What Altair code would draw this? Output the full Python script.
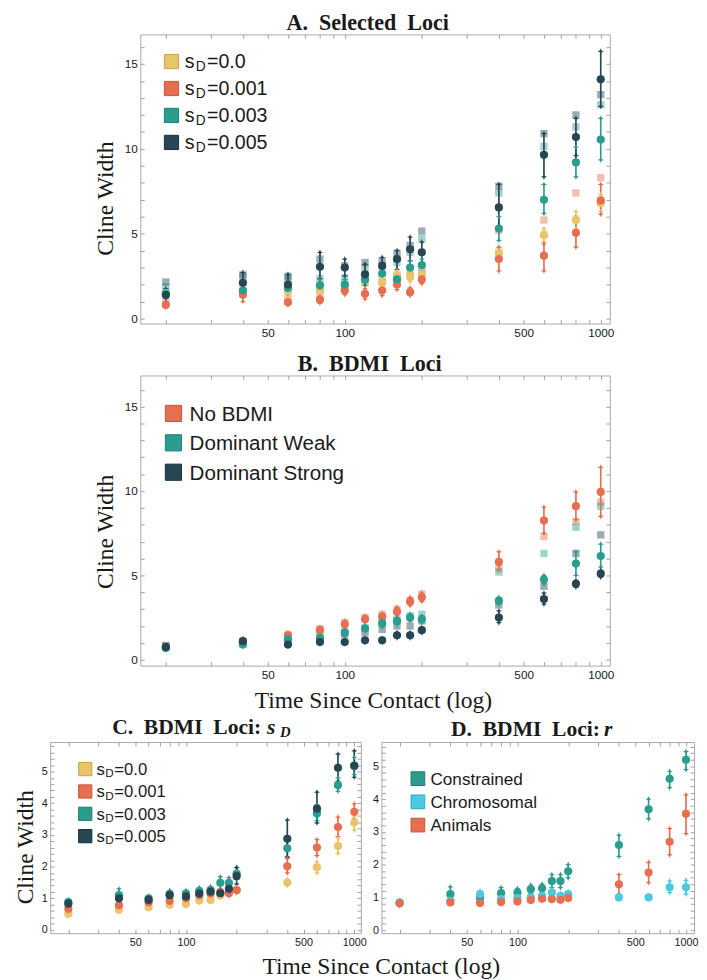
import altair as alt
import pandas as pd

SERIF = "Liberation Serif"
SANS = "Liberation Sans"
INK = "#1a1a1a"
TICK = "#a0a0a0"
FRAME = "#a8a8a8"

YELLOW = "#E9C46A"
RED = "#E76F51"
TEAL = "#2A9D8F"
DARK = "#264653"
CYAN = "#4CC9E0"
EDGE = {YELLOW: "#C9A24A", RED: "#C4553A", TEAL: "#1F7C71", DARK: "#16303A", CYAN: "#2FA8BE"}

TIMES = [20, 40, 60, 80, 100, 120, 140, 160, 180, 200, 400, 600, 800, 1000]
X_TICKS = [20, 30, 40, 50, 60, 70, 80, 90, 100, 200, 300, 400, 500, 600, 700, 800, 900, 1000]
X_MAJOR = [50, 100, 500, 1000]
Y_TICKS_AB = list(range(0, 17))
Y_TICKS_C = [round(0.2 * i, 1) for i in range(0, 30)]
Y_TICKS_D = [round(0.2 * i, 1) for i in range(0, 29)]

# ---------------- Panel A: Selected loci ----------------
A_NAMES = ["0.0", "0.001", "0.003", "0.005"]
A_COLORS = [YELLOW, RED, TEAL, DARK]
A_MEAN = [
    [1.5, 1.5, 1.6, 1.65, 1.8, 2.3, 2.1, 2.5, 2.45, 2.6, 3.85, 4.9, 5.8, 6.8],
    [0.8, 1.4, 0.95, 1.1, 1.65, 1.45, 1.65, 2.0, 1.55, 2.3, 3.5, 3.7, 5.05, 6.95],
    [1.45, 1.65, 1.8, 1.95, 2.0, 2.3, 2.65, 2.3, 3.0, 3.15, 5.3, 7.0, 9.2, 10.55],
    [1.38, 2.1, 2.0, 3.05, 3.0, 2.6, 3.1, 3.5, 4.08, 3.9, 6.55, 9.65, 10.7, 14.1],
]
A_LO = [
    [1.3, 1.25, 1.35, 1.4, 1.55, 2.0, 1.85, 2.2, 2.15, 2.3, 3.45, 4.5, 5.3, 6.3],
    [0.65, 1.0, 0.8, 0.9, 1.4, 1.15, 1.35, 1.7, 1.35, 2.05, 2.8, 2.8, 4.2, 6.15],
    [1.2, 1.3, 1.5, 1.6, 1.7, 1.95, 2.3, 2.0, 2.6, 2.8, 4.6, 6.2, 8.35, 9.35],
    [1.0, 1.45, 1.5, 2.35, 2.5, 2.1, 2.6, 2.9, 3.4, 3.3, 5.3, 8.35, 9.6, 12.5],
]
A_HI = [
    [1.7, 1.75, 1.85, 1.9, 2.05, 2.6, 2.35, 2.8, 2.75, 2.9, 4.2, 5.3, 6.3, 7.3],
    [0.95, 1.7, 1.1, 1.3, 1.9, 1.75, 1.95, 2.3, 1.8, 2.6, 4.2, 4.4, 5.95, 7.9],
    [1.7, 2.0, 2.1, 2.3, 2.3, 2.65, 3.0, 2.6, 3.4, 3.5, 6.0, 7.9, 10.1, 11.8],
    [1.75, 2.7, 2.6, 3.9, 3.5, 3.2, 3.6, 4.0, 4.8, 4.5, 7.9, 10.9, 11.8, 15.75],
]
A_EXP = [
    [1.6, 1.8, 1.7, 1.9, 2.0, 2.2, 2.3, 2.6, 2.7, 2.9, 4.0, 5.0, 5.9, 7.0],
    [1.0, 1.6, 1.2, 1.4, 1.8, 2.1, 2.15, 2.5, 2.6, 2.9, 5.2, 5.8, 7.4, 8.3],
    [1.85, 2.6, 2.5, 2.35, 2.4, 3.0, 3.1, 3.3, 3.9, 4.7, 7.4, 10.15, 11.3, 12.6],
    [2.15, 2.5, 2.4, 3.5, 3.1, 3.3, 3.4, 3.85, 4.3, 5.15, 7.8, 10.9, 12.0, 13.2],
]

# ---------------- Panel B: BDMI loci ----------------
B_NAMES = ["No BDMI", "Dominant Weak", "Dominant Strong"]
B_COLORS = [RED, TEAL, DARK]
B_MEAN = [
    [0.75, 1.0, 1.45, 1.75, 2.1, 2.4, 2.55, 2.85, 3.45, 3.7, 5.8, 8.25, 9.1, 9.95],
    [0.7, 0.9, 1.2, 1.3, 1.6, 1.85, 2.15, 2.3, 2.5, 2.4, 3.5, 4.75, 5.7, 6.15],
    [0.75, 1.1, 0.9, 1.05, 1.05, 1.15, 1.15, 1.45, 1.45, 1.75, 2.5, 3.6, 4.5, 5.1],
]
B_LO = [
    [0.65, 0.9, 1.3, 1.6, 1.9, 2.2, 2.35, 2.6, 3.2, 3.45, 5.35, 7.5, 8.3, 8.5],
    [0.6, 0.8, 1.05, 1.15, 1.45, 1.7, 1.95, 2.1, 2.3, 2.2, 3.3, 4.5, 5.0, 5.5],
    [0.65, 0.95, 0.8, 0.95, 0.95, 1.05, 1.05, 1.3, 1.3, 1.6, 2.2, 3.3, 4.3, 4.9],
]
B_HI = [
    [0.85, 1.1, 1.6, 1.9, 2.3, 2.6, 2.75, 3.1, 3.7, 3.95, 6.4, 9.05, 9.95, 11.4],
    [0.8, 1.0, 1.35, 1.45, 1.75, 2.0, 2.35, 2.5, 2.7, 2.6, 3.7, 5.0, 6.4, 6.85],
    [0.85, 1.25, 1.0, 1.15, 1.15, 1.25, 1.25, 1.6, 1.6, 1.9, 2.9, 3.95, 4.7, 5.3],
]
B_EXP = [
    [0.85, 1.05, 1.5, 1.85, 2.2, 2.5, 2.7, 3.0, 3.5, 3.9, 5.4, 7.3, 8.2, 9.35],
    [0.8, 0.95, 1.25, 1.4, 1.65, 1.9, 2.2, 2.35, 2.6, 2.7, 5.2, 6.3, 7.85, 9.1],
    [0.8, 1.05, 1.05, 1.2, 1.5, 1.6, 1.8, 2.0, 2.0, 2.3, 3.25, 4.35, 6.3, 7.4],
]

# ---------------- Panel C: BDMI loci by s_D ----------------
C_NAMES = ["0.0", "0.001", "0.003", "0.005"]
C_COLORS = [YELLOW, RED, TEAL, DARK]
C_MEAN = [
    [0.51, 0.64, 0.72, 0.8, 0.82, 0.93, 0.95, 1.09, 1.2, 1.26, 1.5, 1.98, 2.65, 3.39],
    [0.67, 0.78, 0.88, 0.92, 1.0, 1.1, 1.15, 1.19, 1.16, 1.26, 2.01, 2.6, 3.25, 3.73],
    [0.88, 1.1, 1.0, 1.13, 1.15, 1.23, 1.26, 1.49, 1.49, 1.78, 2.58, 3.68, 4.57, 5.17],
    [0.83, 1.0, 0.95, 1.1, 1.06, 1.15, 1.21, 1.16, 1.3, 1.7, 2.88, 3.83, 5.12, 5.19],
]
C_LO = [
    [0.46, 0.58, 0.67, 0.74, 0.76, 0.87, 0.89, 1.03, 1.13, 1.19, 1.4, 1.8, 2.42, 3.15],
    [0.6, 0.7, 0.8, 0.84, 0.92, 1.02, 1.07, 1.1, 1.08, 1.17, 1.8, 2.35, 2.95, 3.5],
    [0.8, 0.92, 0.92, 1.02, 1.05, 1.12, 1.15, 1.3, 1.33, 1.6, 2.3, 3.45, 4.38, 4.9],
    [0.75, 0.9, 0.85, 0.98, 0.95, 1.05, 1.1, 1.05, 1.12, 1.45, 2.3, 3.38, 4.7, 4.82],
]
C_HI = [
    [0.56, 0.7, 0.77, 0.86, 0.88, 0.99, 1.01, 1.15, 1.27, 1.33, 1.6, 2.15, 2.9, 3.6],
    [0.74, 0.86, 0.96, 1.0, 1.08, 1.18, 1.23, 1.28, 1.24, 1.35, 2.25, 2.85, 3.56, 3.98],
    [0.96, 1.3, 1.08, 1.24, 1.25, 1.34, 1.37, 1.68, 1.65, 1.96, 2.85, 3.95, 4.8, 5.45],
    [0.91, 1.1, 1.05, 1.22, 1.17, 1.25, 1.32, 1.27, 1.48, 1.98, 3.47, 4.35, 5.55, 5.65],
]

# ---------------- Panel D: BDMI loci by r ----------------
D_NAMES = ["Constrained", "Chromosomal", "Animals"]
D_COLORS = [TEAL, CYAN, RED]
D_MEAN = [
    [0.83, 1.1, 0.98, 1.13, 1.15, 1.25, 1.28, 1.5, 1.5, 1.8, 2.6, 3.69, 4.62, 5.2],
    [0.85, 0.9, 1.1, 0.95, 0.98, 1.0, 1.05, 1.15, 1.05, 1.1, 1.0, 1.0, 1.31, 1.31],
    [0.82, 0.85, 0.83, 0.86, 0.88, 0.92, 0.96, 0.95, 0.93, 0.98, 1.4, 1.76, 2.7, 3.55],
]
D_LO = [
    [0.75, 0.9, 0.9, 0.95, 1.02, 1.12, 1.15, 1.3, 1.3, 1.6, 2.25, 3.4, 4.35, 4.9],
    [0.8, 0.85, 1.0, 0.9, 0.93, 0.95, 0.98, 1.05, 0.98, 1.02, 0.96, 0.96, 1.15, 1.1],
    [0.78, 0.81, 0.79, 0.82, 0.84, 0.88, 0.92, 0.91, 0.89, 0.94, 1.1, 1.45, 2.3, 2.95],
]
D_HI = [
    [0.91, 1.32, 1.06, 1.3, 1.28, 1.38, 1.41, 1.7, 1.7, 2.0, 2.9, 4.0, 4.85, 5.45],
    [0.9, 0.95, 1.2, 1.0, 1.03, 1.05, 1.12, 1.25, 1.12, 1.18, 1.04, 1.04, 1.5, 1.52],
    [0.86, 0.89, 0.87, 0.9, 0.92, 0.96, 1.0, 0.99, 0.97, 1.02, 1.7, 2.07, 3.1, 4.13],
]

STAR = "M0,-1L0.28,-0.28L1,0L0.28,0.28L0,1L-0.28,0.28L-1,0L-0.28,-0.28Z"
ONE = pd.DataFrame({"i": [0]})
X_LABEL_EXPR = "indexof([50, 100, 500, 1000], datum.value) >= 0 ? format(datum.value, 'd') : ''"
Y_LABEL_AB = "datum.value % 5 === 0 ? format(datum.value, 'd') : ''"
Y_LABEL_CD = "abs(datum.value - round(datum.value)) < 0.01 ? format(datum.value, 'd') : ''"


def long_df(names, colors, means, los, his):
    rows = []
    for k, name in enumerate(names):
        for i, t in enumerate(TIMES):
            rows.append({"t": t, "s": name, "c": colors[k], "k": k,
                         "m": means[k][i], "lo": los[k][i], "hi": his[k][i]})
    return pd.DataFrame(rows)


def exp_df(names, colors, exps):
    rows = []
    for k, name in enumerate(names):
        for i, t in enumerate(TIMES):
            rows.append({"t": t, "s": name, "c": colors[k], "k": k, "v": exps[k][i]})
    return pd.DataFrame(rows)


def txt(s, x, y, size, font=SANS, weight="normal", style="normal", align="left"):
    return alt.Chart(ONE).mark_text(
        text=s, font=font, fontSize=size, fontWeight=weight, fontStyle=style,
        align=align, baseline="alphabetic", color=INK
    ).encode(x=alt.value(x), y=alt.value(y))


def swatch(col, x, y, side):
    return alt.Chart(ONE).mark_square(
        size=side * side, filled=True, fill=col, stroke=EDGE[col], strokeWidth=1, opacity=1
    ).encode(x=alt.value(x), y=alt.value(y))


def panel(df, edf, xdom, ydom, w, h, yticks, ylab, lab_fs, ytitle, xtitle, extra):
    xs = alt.Scale(type="log", domain=xdom, nice=False)
    ys = alt.Scale(domain=ydom, nice=False, zero=False)
    common = dict(domain=False, grid=False, offset=-4, tickSize=4, tickColor=TICK, tickWidth=1)
    xa = alt.Axis(values=X_TICKS, labelExpr=X_LABEL_EXPR, labelFont=SANS, labelFontSize=lab_fs,
                  labelColor=INK, labelPadding=4, labelFlush=False, labelOverlap=False, **common, **xtitle)
    ya = alt.Axis(values=yticks, labelExpr=ylab, labelFont=SANS, labelFontSize=lab_fs,
                  labelColor=INK, labelPadding=3, labelFlush=False, labelOverlap=False, **common, **ytitle)
    xt = alt.Axis(orient="top", values=X_TICKS, labels=False, title=None, **common)
    yr = alt.Axis(orient="right", values=yticks, labels=False, title=None, **common)
    color = alt.Color("c:N", scale=None)
    order = alt.Order("k:Q")
    state = {"first": True}

    def xy(yfield):
        f = state["first"]
        state["first"] = False
        return dict(x=alt.X("t:Q", scale=xs, axis=xa if f else None),
                    y=alt.Y(yfield, scale=ys, axis=ya if f else None))

    layers = []
    if edf is not None:
        layers.append(alt.Chart(edf).mark_square(size=56, opacity=0.45).encode(
            **xy("v:Q"), color=color, order=order))
    layers.append(alt.Chart(df).mark_rule(strokeWidth=1.7).encode(
        **xy("lo:Q"), y2=alt.Y2("hi:Q"), color=color, order=order))
    layers.append(alt.Chart(df).mark_point(shape=STAR, filled=True, size=40, opacity=1).encode(
        **xy("lo:Q"), color=color, order=order))
    layers.append(alt.Chart(df).mark_point(shape=STAR, filled=True, size=40, opacity=1).encode(
        **xy("hi:Q"), color=color, order=order))
    layers.append(alt.Chart(df).mark_circle(size=70, opacity=1).encode(
        **xy("m:Q"), color=color, order=order))
    layers.append(alt.Chart(df).mark_point(opacity=0).encode(
        x=alt.X("t:Q", scale=xs, axis=xt), y=alt.Y("m:Q", scale=ys, axis=yr)))
    return alt.layer(*layers, *extra).resolve_axis(x="independent", y="independent").properties(
        width=w, height=h)


def ytitle_kw(tx, ty):
    return dict(title="Cline Width", titleFont=SERIF, titleFontSize=24, titleFontWeight="normal",
                titleColor=INK, titleAngle=270, titleAlign="center", titleBaseline="alphabetic",
                titleX=tx, titleY=ty)


# ---- extras: legends and titles ----
A_extra = [txt("A.\u00a0\u00a0Selected\u00a0\u00a0Loci", 232, -5, 22.5, SERIF, "bold", align="center")]
for k, (name, col) in enumerate(zip(A_NAMES, A_COLORS)):
    cy = 27.7 + 27.5 * k
    A_extra += [swatch(col, 31.8, cy, 14.5), txt("s", 45.3, cy + 7, 20), txt("D", 56.5, cy + 10, 14),
                txt("=" + name, 68, cy + 7, 20)]

B_extra = [txt("B.\u00a0\u00a0BDMI\u00a0\u00a0Loci", 234, -5, 22.5, SERIF, "bold", align="center")]
for k, (name, col) in enumerate(zip(B_NAMES, B_COLORS)):
    cy = 38.7 + 30 * k
    B_extra += [swatch(col, 33.8, cy, 16.5), txt(name, 50.3, cy + 7.5, 21)]

C_extra = [txt("C.\u00a0\u00a0BDMI\u00a0\u00a0Loci:", 215.3, -8.4, 22, SERIF, "bold", align="right"),
           txt("s", 221.3, -8.4, 22, SERIF, "bold", "italic"),
           txt("D", 234.5, -5, 15, SERIF, "bold", "italic")]
for k, (name, col) in enumerate(zip(C_NAMES, C_COLORS)):
    cy = 27.6 + 22.8 * k
    C_extra += [swatch(col, 35.8, cy, 13.5), txt("s", 47.3, cy + 6, 17), txt("D", 56.3, cy + 8.5, 12),
                txt("=" + name, 65.5, cy + 6, 17)]

D_extra = [txt("D.\u00a0\u00a0BDMI\u00a0\u00a0Loci:", 223, -6, 22, SERIF, "bold", align="right"),
           txt("r", 227, -6, 22, SERIF, "bold", "italic")]
for k, (name, col) in enumerate(zip(D_NAMES, D_COLORS)):
    cy = 37.3 + 23.7 * k
    D_extra += [swatch(col, 37.2, cy, 14), txt(name, 50, cy + 6.5, 17.5)]

NO_TITLE = dict(title=None)
XT_B = dict(title="Time Since Contact (log)", titleFont=SERIF, titleFontSize=24, titleFontWeight="normal",
            titleColor=INK, titleAlign="center", titleBaseline="alphabetic", titleX=237.3, titleY=47)

A = panel(long_df(A_NAMES, A_COLORS, A_MEAN, A_LO, A_HI), exp_df(A_NAMES, A_COLORS, A_EXP),
          [15.9, 1085], [-0.3, 16.75], 479, 295, Y_TICKS_AB, Y_LABEL_AB, 12,
          ytitle_kw(-32.7, 167), NO_TITLE, A_extra)
B = panel(long_df(B_NAMES, B_COLORS, B_MEAN, B_LO, B_HI), exp_df(B_NAMES, B_COLORS, B_EXP),
          [15.9, 1085], [-0.35, 16.85], 479, 296, Y_TICKS_AB, Y_LABEL_AB, 12,
          ytitle_kw(-32.7, 159), XT_B, B_extra)
C = panel(long_df(C_NAMES, C_COLORS, C_MEAN, C_LO, C_HI), None,
          [15.6, 1094], [-0.1, 5.93], 317, 195, Y_TICKS_C, Y_LABEL_CD, 11,
          ytitle_kw(-22.4, 106.8), NO_TITLE, C_extra)
D = panel(long_df(D_NAMES, D_COLORS, D_MEAN, D_LO, D_HI), None,
          [15.6, 1117], [-0.09, 5.74], 319, 195, Y_TICKS_D, Y_LABEL_CD, 11,
          NO_TITLE, NO_TITLE, D_extra)


def spacer(wd):
    return alt.Chart(ONE).mark_point(opacity=0).encode(x=alt.value(0), y=alt.value(0)).properties(
        width=wd, height=10, view=alt.ViewBackground(stroke="transparent"))


SP_W = 42
row1 = alt.hconcat(spacer(SP_W), A, spacing=0)
row2 = alt.hconcat(spacer(SP_W), B, spacing=0)
row3 = alt.hconcat(C, D, spacing=4).properties(
    title=alt.TitleParams("Time Since Contact (log)", orient="bottom", anchor="middle", font=SERIF,
                          fontSize=24, fontWeight="normal", color=INK, offset=7, dx=26))
top = alt.vconcat(row1, row2, spacing=13)
chart = alt.vconcat(top, row3, spacing=2).properties(
    padding={"left": 5, "top": -7, "right": 0, "bottom": 0}
).configure_view(stroke=FRAME, strokeWidth=1)

chart.save("out.html", embed_options={"renderer": "svg", "actions": False})
